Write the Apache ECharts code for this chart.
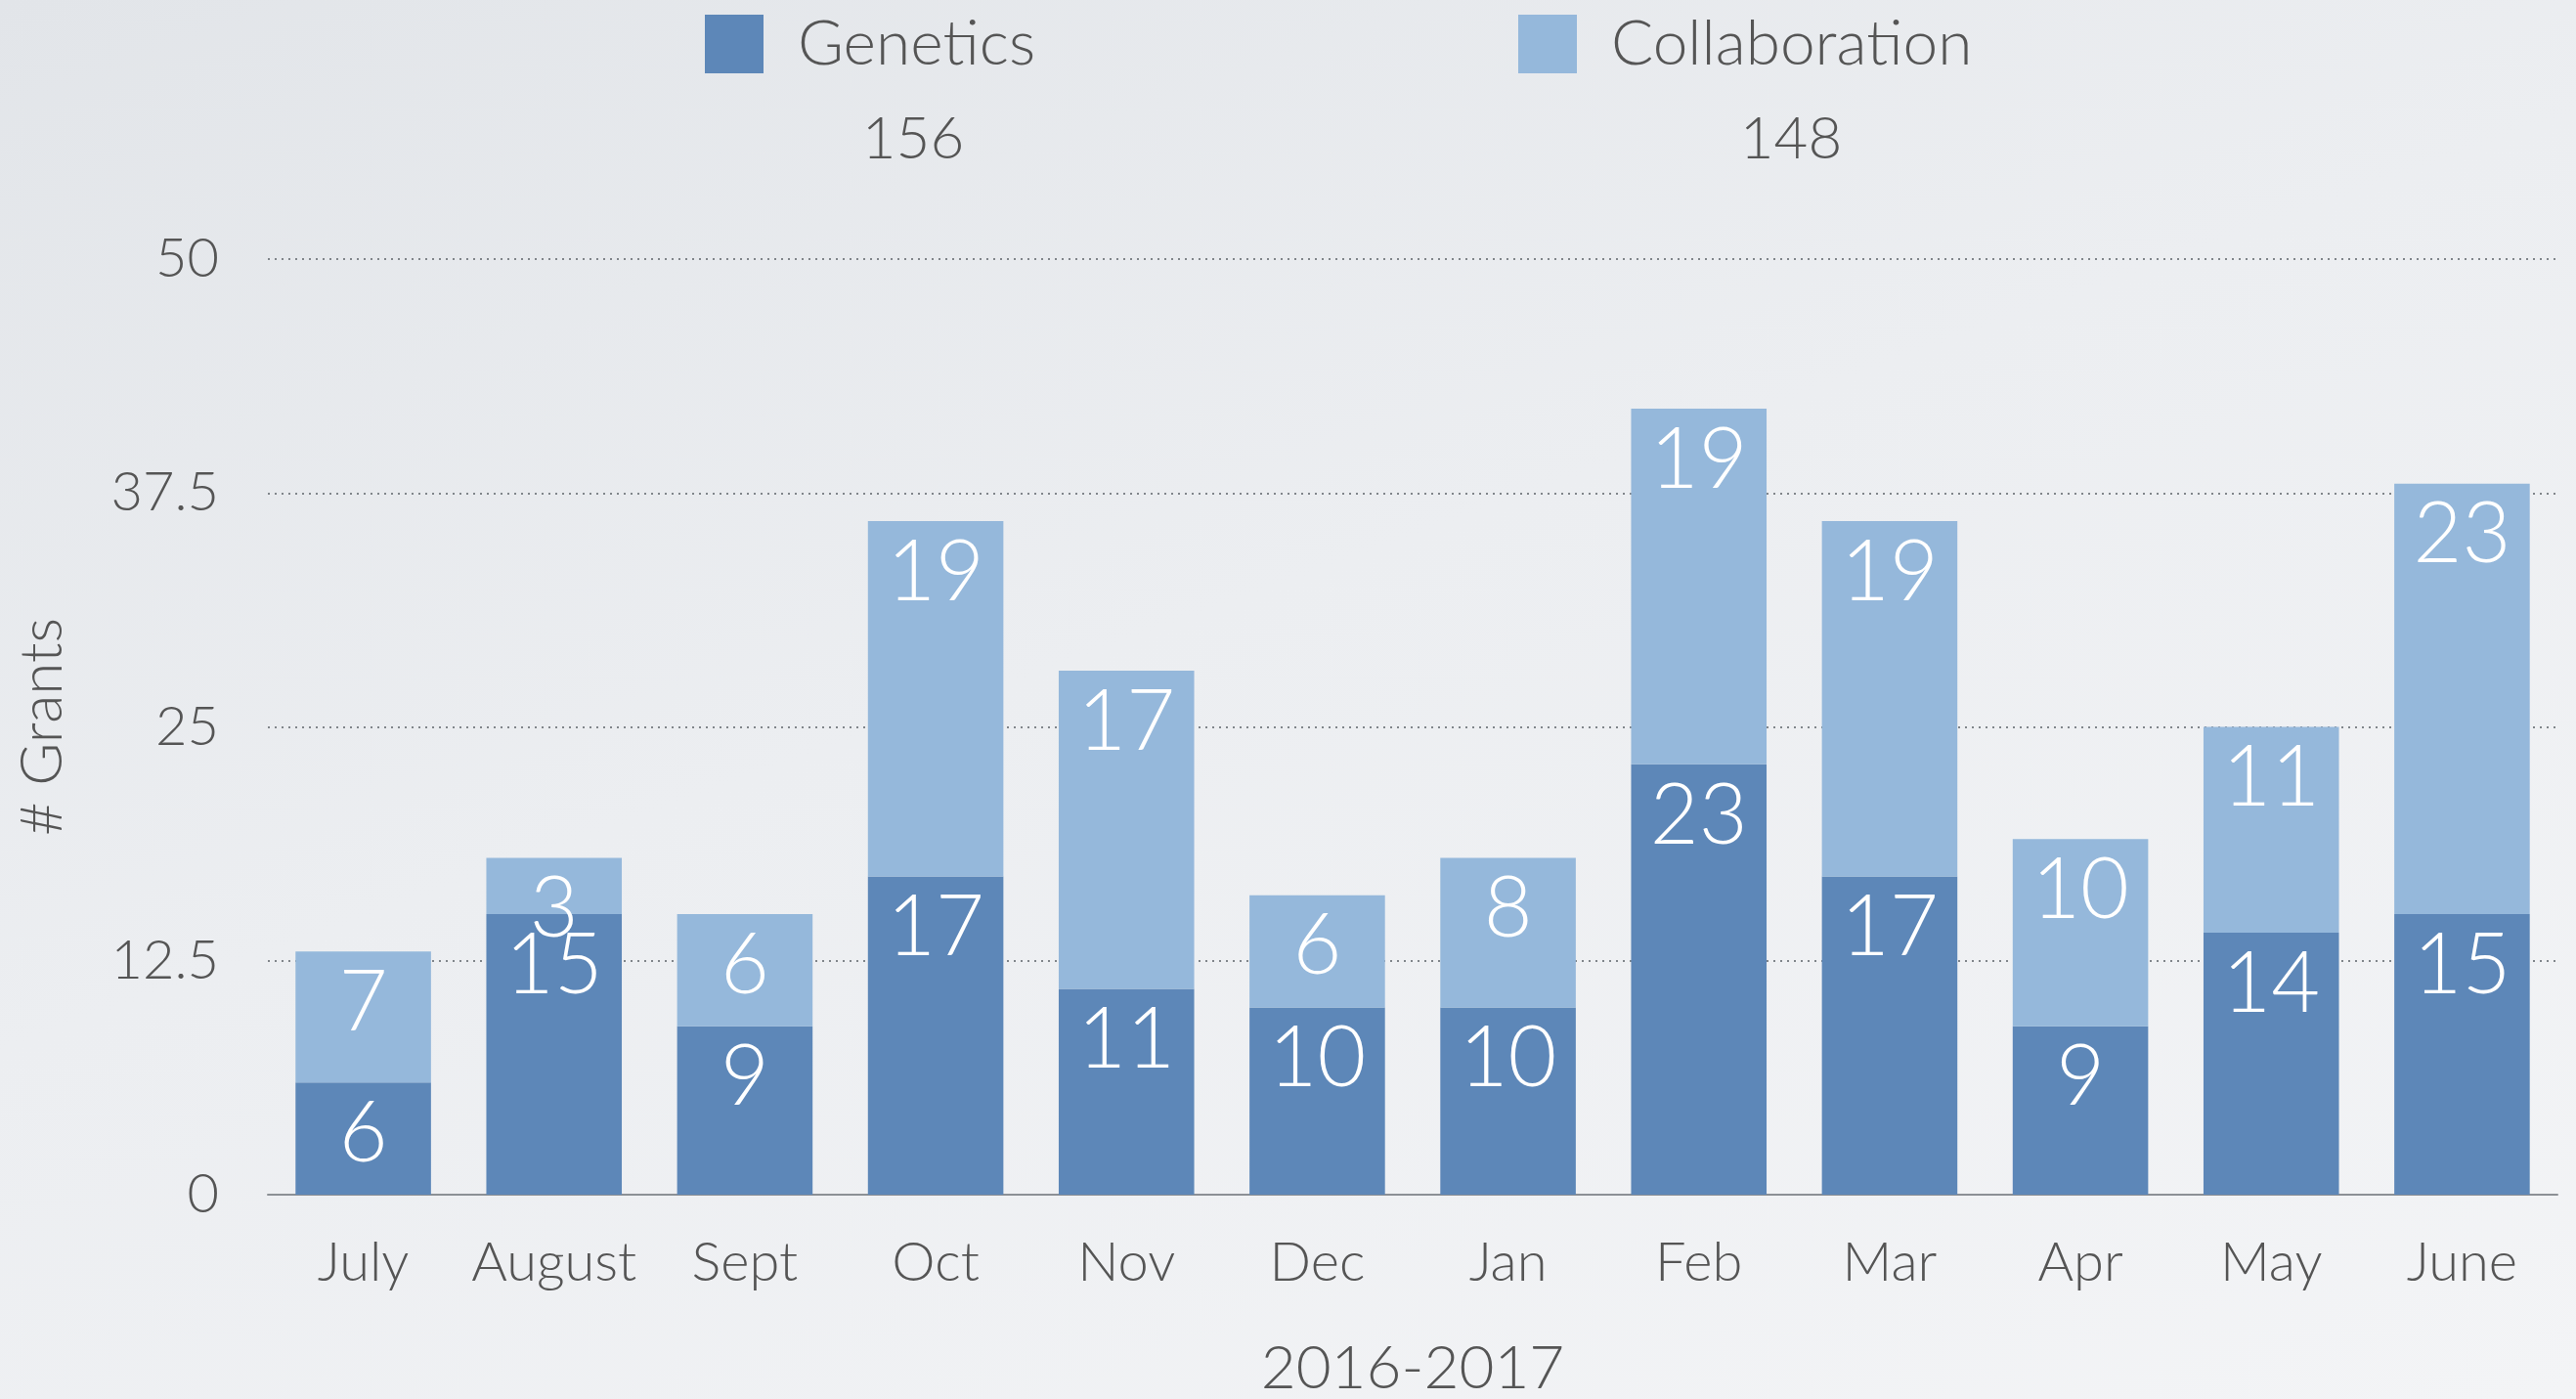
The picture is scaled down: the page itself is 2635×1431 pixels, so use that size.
<!DOCTYPE html>
<html>
<head>
<meta charset="utf-8">
<script src="https://cdn.jsdelivr.net/npm/echarts@6/dist/echarts.min.js"></script>
<style>
  html, body { margin: 0; padding: 0; width: 100%; height: 100%; }
  body { background: linear-gradient(160deg, #e2e5e9 0%, #eceef1 45%, #f3f4f6 100%); }
  #chart { width: 2635px; height: 1431px; }
</style>
</head>
<body>
<div id="chart"></div>
<script>
const months = ["July", "August", "Sept", "Oct", "Nov", "Dec", "Jan", "Feb", "Mar", "Apr", "May", "June"];
const genetics = [6, 15, 9, 17, 11, 10, 10, 23, 17, 9, 14, 15];
const collaboration = [7, 3, 6, 19, 17, 6, 8, 19, 19, 10, 11, 23];
const yTicks = [0, 12.5, 25, 37.5, 50];

const FONT = "Lato";
const TEXT = "#555";
const colors = { genetics: "#5d87b8", collaboration: "#95b8db" };

const sum = (arr) => arr.reduce((a, b) => a + b, 0);

const chart = echarts.init(document.getElementById("chart"));

const legendBase = {
  top: 8,
  itemWidth: 60,
  itemHeight: 60,
  itemGap: 0,
  icon: "rect",
  textStyle: { fontFamily: FONT, fontWeight: 300, fontSize: 64, color: TEXT, padding: [0, 0, 0, 30] },
};

const barLabel = {
  show: true,
  position: "insideTop",
  distance: 10,
  color: "#fff",
  fontFamily: FONT,
  fontWeight: 300,
  fontSize: 86,
};

const totalStyle = { fontFamily: FONT, fontWeight: 300, fontSize: 60, fill: TEXT, align: "center", verticalAlign: "middle" };

const option = {
  backgroundColor: "transparent",
  textStyle: { fontFamily: FONT },
  legend: [
    Object.assign({}, legendBase, { left: 716, data: ["Genetics"] }),
    Object.assign({}, legendBase, { left: 1548, data: ["Collaboration"] }),
  ],
  graphic: [
    { type: "text", x: 934, y: 143, style: Object.assign({ text: String(sum(genetics)) }, totalStyle) },
    { type: "text", x: 1832, y: 143, style: Object.assign({ text: String(sum(collaboration)) }, totalStyle) },
  ],
  grid: { left: 274, right: 19, top: 265, bottom: 209, outerBoundsMode: "none", containLabel: false },
  xAxis: {
    type: "category",
    data: months,
    name: "2016-2017",
    nameLocation: "middle",
    nameGap: 147,
    nameTextStyle: { fontFamily: FONT, fontWeight: 300, fontSize: 62, color: TEXT },
    axisLine: { lineStyle: { color: "#8c9095", width: 2 } },
    axisTick: { show: false },
    axisLabel: { interval: 0, fontFamily: FONT, fontWeight: 300, fontSize: 56, color: TEXT, margin: 42 },
  },
  yAxis: {
    type: "value",
    min: yTicks[0],
    max: yTicks[yTicks.length - 1],
    interval: yTicks[1] - yTicks[0],
    name: "# Grants",
    nameLocation: "middle",
    nameGap: 200,
    nameRotate: 90,
    nameTextStyle: { fontFamily: FONT, fontWeight: 300, fontSize: 60, color: TEXT },
    axisLine: { show: false },
    axisTick: { show: false },
    axisLabel: { fontFamily: FONT, fontWeight: 300, fontSize: 56, color: TEXT, margin: 50 },
    splitLine: { lineStyle: { color: "#80858a", width: 2, type: [2, 5] } },
  },
  series: [
    {
      name: "Genetics",
      type: "bar",
      stack: "grants",
      barWidth: "71%",
      itemStyle: { color: colors.genetics },
      label: barLabel,
      data: genetics,
    },
    {
      name: "Collaboration",
      type: "bar",
      stack: "grants",
      barWidth: "71%",
      itemStyle: { color: colors.collaboration },
      label: barLabel,
      data: collaboration,
    },
  ],
};

chart.setOption(option);
</script>
</body>
</html>
